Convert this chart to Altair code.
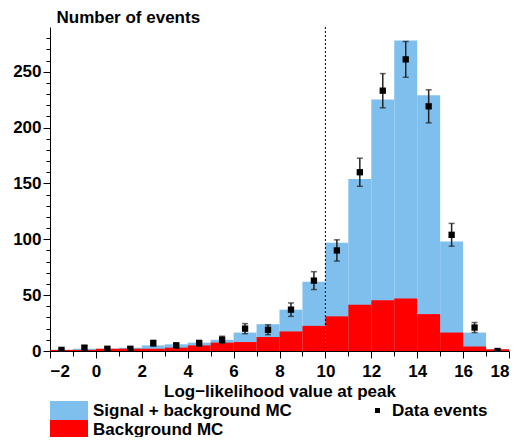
import altair as alt
import pandas as pd

# ---- data ----
bin_lo = [-2, -1, 0, 1, 2, 3, 4, 5, 6, 7, 8, 9, 10, 11, 12, 13, 14, 15, 16, 17]
bin_hi = [-1, 0, 1, 2, 3, 4, 5, 6, 7, 8, 9, 10, 11, 12, 13, 14, 15, 16, 17, 18]
sig_bkg_mc = [1, 2, 2, 3, 5, 6, 7.5, 10, 16.5, 24, 37, 62, 97, 154, 225, 278, 229, 98, 16.5, 1.5]
bkg_mc = [1, 1, 2, 2, 2, 3, 5, 7.5, 8, 12.5, 17.5, 22.5, 31, 41.5, 45.5, 47, 33, 16.5, 4, 1.5]
data_x = [-1.5, -0.5, 0.5, 1.5, 2.5, 3.5, 4.5, 5.5, 6.5, 7.5, 8.5, 9.5, 10.5, 11.5, 12.5, 13.5, 14.5, 15.5, 16.5, 17.5]
data_n = [1, 3, 2, 2, 7, 5, 7, 10, 20, 19, 37, 63, 90, 160, 233, 261, 219, 104, 21, 0]
data_err = [1, 1.7, 1.4, 1.4, 2.6, 2.2, 2.6, 3.2, 4.5, 4.4, 6, 8, 9.5, 12.6, 15.3, 16, 14.8, 10.2, 4.5, 0]
cut_x = [10]

x_major = [-2, 0, 2, 4, 6, 8, 10, 12, 14, 16, 18]
x_minor = [-1, 1, 3, 5, 7, 9, 11, 13, 15, 17]
y_major = [0, 50, 100, 150, 200, 250]
y_minor = [10, 20, 30, 40, 60, 70, 80, 90, 110, 120, 130, 140, 160, 170, 180, 190,
           210, 220, 230, 240, 260, 270, 280]

SIG = "Signal + background MC"
BKG = "Background MC"
DATA = "Data events"
FONT = "Liberation Sans"
FS = 17

mc_df = pd.DataFrame({
    "lo": bin_lo + bin_lo,
    "hi": bin_hi + bin_hi,
    "v": sig_bkg_mc + bkg_mc,
    "series": [SIG] * len(bin_lo) + [BKG] * len(bin_lo),
})
data_df = pd.DataFrame({
    "x": data_x,
    "n": data_n,
    "lo": [n - e for n, e in zip(data_n, data_err)],
    "hi": [n + e for n, e in zip(data_n, data_err)],
    "kind": [DATA] * len(data_x),
})
cut_df = pd.DataFrame({"x": cut_x})

xs = alt.Scale(domain=[-2, 18], nice=False, zero=False)
ys = alt.Scale(domain=[0, 290], nice=False)

x_axis_major = alt.Axis(values=x_major, title="Log\u2212likelihood value at peak", tickSize=7,
                        labelPadding=5, titlePadding=4, grid=False, format="d")
y_axis_major = alt.Axis(values=y_major, title="Number of events", tickSize=7, labelPadding=2,
                        grid=False, titleAngle=0, titleX=6, titleY=-5, titleAlign="left",
                        titleBaseline="alphabetic", format="d")
x_axis_minor = alt.Axis(values=x_minor, orient="bottom", labels=False, domain=False, tickSize=5,
                        title=None, grid=False)
y_axis_minor = alt.Axis(values=y_minor, orient="left", labels=False, domain=False, tickSize=4,
                        title=None, grid=False)

bars = alt.Chart(mc_df).mark_bar(strokeWidth=0).encode(
    x=alt.X("lo:Q", scale=xs, axis=x_axis_major),
    x2="hi:Q",
    y=alt.Y("v:Q", scale=ys, axis=y_axis_major, stack=None),
    y2=alt.datum(0),
    color=alt.Color("series:N",
                    scale=alt.Scale(domain=[SIG, BKG], range=["#7fbfee", "#ff0000"]),
                    legend=alt.Legend(title=None, orient="none", legendX=0, legendY=374,
                                      symbolType="M-1,-1L3,-1L3,1L-1,1Z",
                                      symbolSize=361, symbolStrokeWidth=0, symbolOpacity=1,
                                      labelFontSize=FS, labelFontWeight="bold", labelFont=FONT,
                                      labelColor="black", labelOffset=24, labelLimit=0,
                                      rowPadding=0, padding=0)),
)

cut = alt.Chart(cut_df).mark_rule(color="black", strokeWidth=1, strokeDash=[2, 2]).encode(
    x=alt.X("x:Q", scale=xs, axis=None),
)

errs = alt.Chart(data_df).mark_errorbar(ticks={"size": 6}, color="#222222", thickness=1.5).encode(
    x=alt.X("x:Q", scale=xs, axis=None),
    y=alt.Y("lo:Q", scale=ys, axis=None),
    y2="hi:Q",
)

points = alt.Chart(data_df).mark_point(filled=True, color="black", size=40, opacity=1,
                                       clip=True).encode(
    x=alt.X("x:Q", scale=xs, axis=x_axis_minor),
    y=alt.Y("n:Q", scale=ys, axis=y_axis_minor),
    shape=alt.Shape("kind:N", scale=alt.Scale(domain=[DATA], range=["square"]),
                    legend=alt.Legend(title=None, orient="none", legendX=319, legendY=375,
                                      symbolSize=25, symbolFillColor="black",
                                      symbolStrokeWidth=0, labelFontSize=FS,
                                      labelFontWeight="bold", labelFont=FONT,
                                      labelColor="black", labelOffset=6, labelLimit=0,
                                      padding=0)),
)

chart = alt.layer(bars, cut, errs, points).resolve_axis(
    x="independent", y="independent"
).properties(
    width=459, height=324,
    padding={"left": 42, "top": 19, "right": 9, "bottom": 86},
    autosize=alt.AutoSizeParams(type="none"),
).configure_view(stroke=None).configure_axis(
    labelFont=FONT, titleFont=FONT, labelFontSize=FS, titleFontSize=FS,
    labelFontWeight="bold", titleFontWeight="bold", labelColor="black", titleColor="black",
    domainColor="black", tickColor="black", domainWidth=1, tickWidth=1,
)

chart.save("out.html", embed_options={"renderer": "svg", "actions": False})
